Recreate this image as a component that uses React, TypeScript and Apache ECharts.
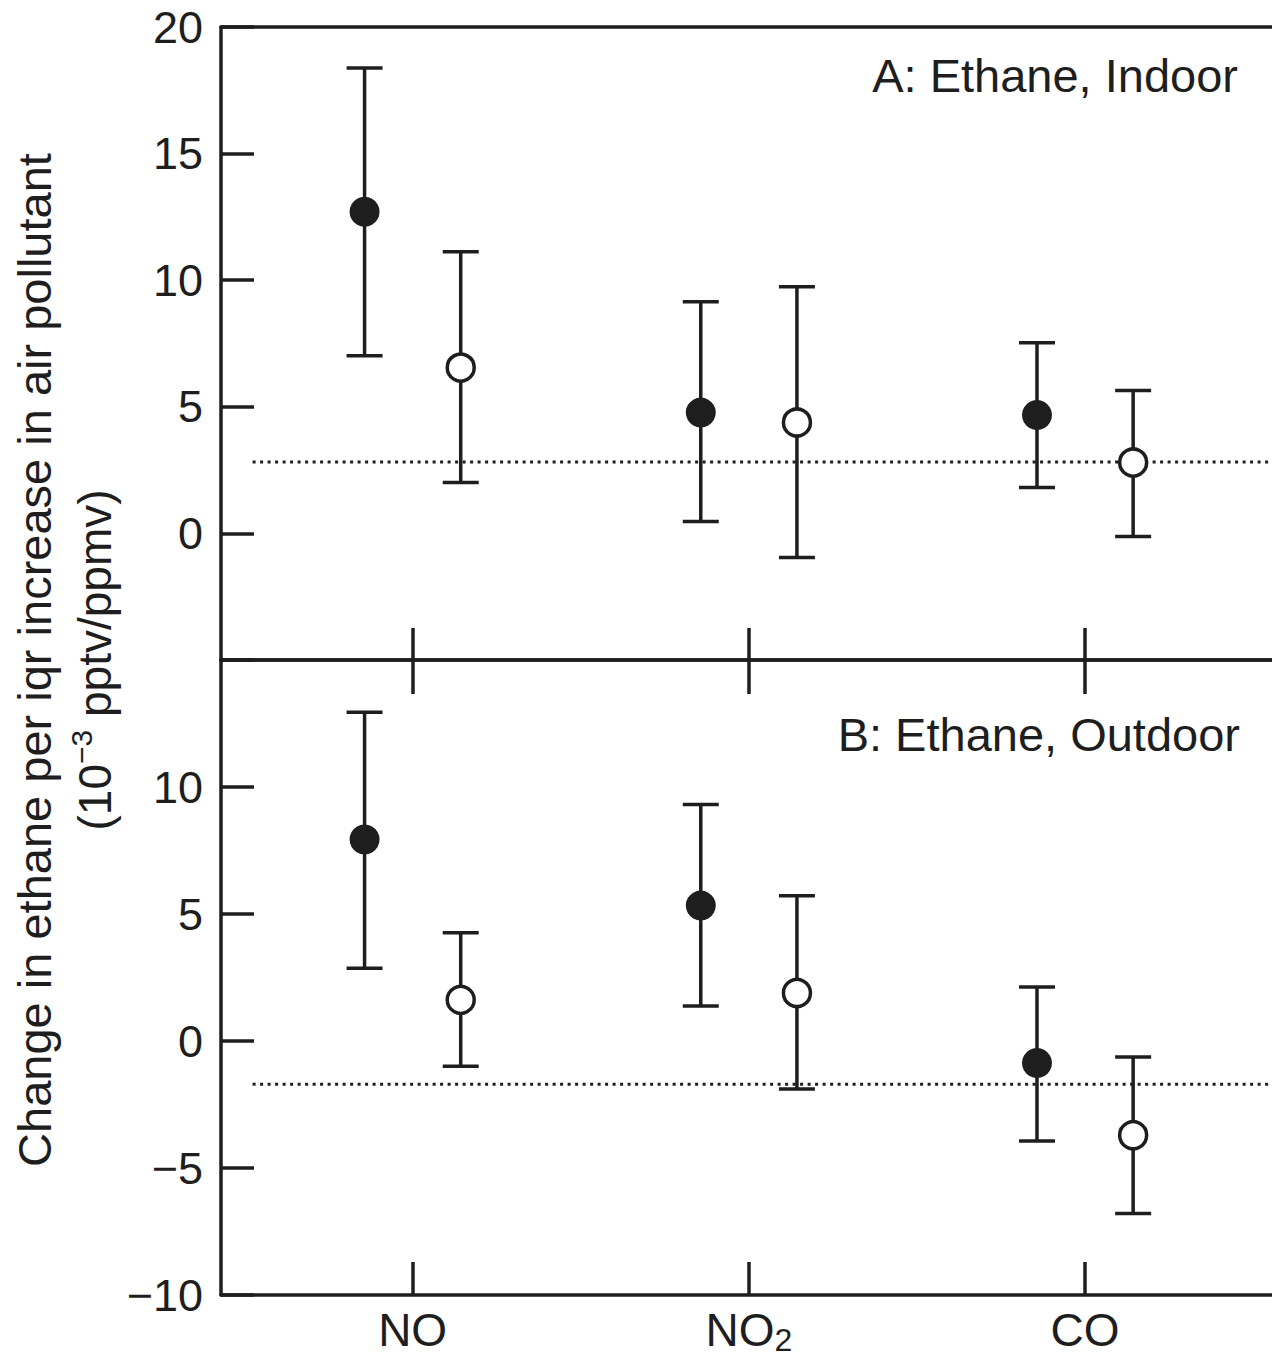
import React, { useEffect, useRef } from "react";
import * as echarts from "echarts";

// ---- data ----
const categories = ["NO", "NO2", "CO"];
const catX = [1, 2, 3];
const X_MIN = 0.43;
const X_MAX = 3.556;
const DODGE = 0.143;

// Panel A: Ethane, Indoor
const indoorSingle = [12.7, 4.77, 4.68];
const indoorSingleLo = [7.02, 0.47, 1.81];
const indoorSingleHi = [18.38, 9.15, 7.53];
const indoorMulti = [6.55, 4.38, 2.8];
const indoorMultiLo = [2.01, -0.95, -0.12];
const indoorMultiHi = [11.12, 9.74, 5.64];
const indoorRef = 2.82;

// Panel B: Ethane, Outdoor
const outdoorSingle = [7.93, 5.33, -0.87];
const outdoorSingleLo = [2.86, 1.38, -3.94];
const outdoorSingleHi = [12.94, 9.31, 2.13];
const outdoorMulti = [1.62, 1.89, -3.71];
const outdoorMultiLo = [-0.99, -1.89, -6.79];
const outdoorMultiHi = [4.26, 5.72, -0.63];
const outdoorRef = -1.7;

const refLineSpan = [0.524, X_MAX];

const panelA = { title: "A: Ethane, Indoor", yMin: -5, yMax: 20, hideLabel: -5 };
const panelB = { title: "B: Ethane, Outdoor", yMin: -10, yMax: 15, hideLabel: 15 };

const FONT = '"Liberation Sans", Arial, Helvetica, sans-serif';
const INK = "#1e1e1e";

function fmtNum(v: number) {
  return v < 0 ? "\u2212" + Math.abs(v) : String(v);
}

function errorSeries(name: string, xAxisIndex: number, yAxisIndex: number, xs: number[], lo: number[], hi: number[]) {
  return {
    name,
    type: "custom",
    xAxisIndex,
    yAxisIndex,
    z: 2,
    encode: { x: 0, y: [1, 2] },
    data: xs.map((x, i) => [x, lo[i], hi[i]]),
    renderItem: (params: any, api: any) => {
      const x = api.value(0);
      const top = api.coord([x, api.value(2)]);
      const bot = api.coord([x, api.value(1)]);
      const hw = 18;
      const style = { stroke: INK, lineWidth: 3.5 };
      return {
        type: "group",
        children: [
          { type: "line", shape: { x1: top[0], y1: top[1], x2: bot[0], y2: bot[1] }, style },
          { type: "line", shape: { x1: top[0] - hw, y1: top[1], x2: top[0] + hw, y2: top[1] }, style },
          { type: "line", shape: { x1: bot[0] - hw, y1: bot[1], x2: bot[0] + hw, y2: bot[1] }, style },
        ],
      };
    },
  };
}

function panelSeries(
  xAxisIndex: number,
  yAxisIndex: number,
  single: number[], singleLo: number[], singleHi: number[],
  multi: number[], multiLo: number[], multiHi: number[],
  ref: number
) {
  const xs1 = catX.map((c) => c - DODGE);
  const xs2 = catX.map((c) => c + DODGE);
  return [
    {
      type: "line",
      xAxisIndex,
      yAxisIndex,
      z: 1,
      showSymbol: false,
      symbol: "none",
      silent: true,
      data: [[refLineSpan[0], ref], [refLineSpan[1], ref]],
      lineStyle: { color: INK, width: 3, type: [3, 4.5] },
    },
    errorSeries("single-ci", xAxisIndex, yAxisIndex, xs1, singleLo, singleHi),
    errorSeries("multi-ci", xAxisIndex, yAxisIndex, xs2, multiLo, multiHi),
    {
      type: "scatter",
      xAxisIndex,
      yAxisIndex,
      z: 3,
      symbol: "circle",
      symbolSize: 30,
      itemStyle: { color: INK, opacity: 1 },
      data: xs1.map((x, i) => [x, single[i]]),
    },
    {
      type: "scatter",
      xAxisIndex,
      yAxisIndex,
      z: 3,
      symbol: "circle",
      symbolSize: 27,
      itemStyle: { color: "#ffffff", borderColor: INK, borderWidth: 3.5, opacity: 1 },
      data: xs2.map((x, i) => [x, multi[i]]),
    },
  ];
}

const lineStyle = { color: INK, width: 3.5 };

function xAxisCfg(gridIndex: number, position: string, ticks: boolean, tickLen: number, labels: boolean) {
  return {
    gridIndex,
    type: "value",
    min: X_MIN,
    max: X_MAX,
    position,
    axisLine: { show: true, onZero: false, lineStyle },
    axisTick: { show: ticks, inside: true, length: tickLen, customValues: catX, lineStyle: { color: INK, width: 3.5 } },
    axisLabel: labels
      ? {
          show: true,
          customValues: catX,
          margin: 12,
          formatter: (v: number) => {
            const c = categories[Math.round(v) - 1];
            if (c === "NO2") return "{m|NO}{s|2}";
            return "{m|" + c + "}";
          },
          rich: {
            m: { fontSize: 46, lineHeight: 46, fontFamily: FONT, color: INK },
            s: { fontSize: 32, lineHeight: 10, verticalAlign: "top", padding: [17, 0, 0, 0], fontFamily: FONT, color: INK },
          },
        }
      : { show: false },
    splitLine: { show: false },
  };
}

function yAxisCfg(gridIndex: number, p: { yMin: number; yMax: number; hideLabel: number }) {
  return {
    gridIndex,
    type: "value",
    min: p.yMin,
    max: p.yMax,
    interval: 5,
    axisLine: { show: true, onZero: false, lineStyle },
    axisTick: { show: true, inside: true, length: 33, lineStyle: { color: INK, width: 3.5 } },
    axisLabel: {
      show: true,
      showMinLabel: true,
      showMaxLabel: true,
      margin: 18,
      fontSize: 45,
      fontFamily: FONT,
      color: INK,
      formatter: (v: number) => (v === p.hideLabel ? "" : fmtNum(v)),
    },
    splitLine: { show: false },
  };
}

export default function App() {
  const ref = useRef<HTMLDivElement>(null);
  useEffect(() => {
    if (!ref.current) return;
    const chart = echarts.init(ref.current, undefined, { renderer: "svg" });
    const option: any = {
      animation: false,
      backgroundColor: "#ffffff",
      grid: [
        { left: 221, top: 27, width: 1051, height: 633, containLabel: false, outerBoundsMode: "none" },
        { left: 221, top: 660, width: 1051, height: 635, containLabel: false, outerBoundsMode: "none" },
      ],
      xAxis: [
        xAxisCfg(0, "bottom", true, 32, false),
        xAxisCfg(0, "top", false, 0, false),
        xAxisCfg(1, "top", true, 34, false),
        xAxisCfg(1, "bottom", true, 33, true),
      ],
      yAxis: [yAxisCfg(0, panelA), yAxisCfg(1, panelB)],
      series: [
        ...panelSeries(0, 0, indoorSingle, indoorSingleLo, indoorSingleHi, indoorMulti, indoorMultiLo, indoorMultiHi, indoorRef),
        ...panelSeries(3, 1, outdoorSingle, outdoorSingleLo, outdoorSingleHi, outdoorMulti, outdoorMultiLo, outdoorMultiHi, outdoorRef),
      ],
      graphic: [
        {
          type: "text",
          x: 1238,
          y: 75,
          style: {
            text: panelA.title,
            font: "47px " + FONT,
            fill: INK,
            align: "right",
            verticalAlign: "middle",
            textAlign: "right",
            textVerticalAlign: "middle",
          },
        },
        {
          type: "text",
          x: 1240,
          y: 734,
          style: {
            text: panelB.title,
            font: "47px " + FONT,
            fill: INK,
            align: "right",
            verticalAlign: "middle",
            textAlign: "right",
            textVerticalAlign: "middle",
          },
        },
        {
          type: "text",
          x: 34,
          y: 660,
          rotation: Math.PI / 2,
          style: {
            text: "Change in ethane per iqr increase in air pollutant",
            font: "47px " + FONT,
            fill: INK,
            align: "center",
            verticalAlign: "middle",
            textAlign: "center",
            textVerticalAlign: "middle",
          },
        },
        {
          type: "text",
          x: 95,
          y: 660,
          rotation: Math.PI / 2,
          style: {
            text: "{m|(10}{s|\u22123}{m| pptv/ppmv)}",
            font: "46px " + FONT,
            fill: INK,
            align: "center",
            verticalAlign: "middle",
            textAlign: "center",
            textVerticalAlign: "middle",
            rich: {
              m: { fontSize: 46, lineHeight: 57, fontFamily: FONT, fill: INK },
              s: { fontSize: 30, lineHeight: 33, verticalAlign: "top", fontFamily: FONT, fill: INK },
            },
          },
        },
      ],
    };
    chart.setOption(option);
    return () => chart.dispose();
  }, []);
  return (
    <div
      ref={ref}
      style={{ position: "absolute", left: 0, top: 0, width: 1272, height: 1359, background: "#fff" }}
    />
  );
}
